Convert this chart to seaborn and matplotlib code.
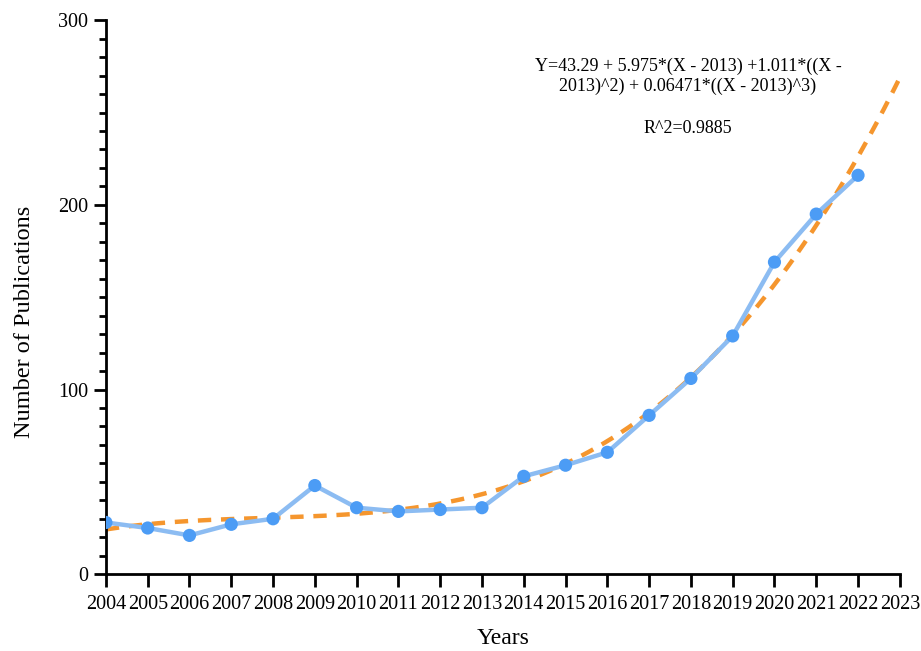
import numpy as np
import pandas as pd
import matplotlib
matplotlib.use("Agg")
import matplotlib.pyplot as plt
from matplotlib.ticker import MultipleLocator
import seaborn as sns

years = [2004, 2005, 2006, 2007, 2008, 2009, 2010, 2011, 2012, 2013,
         2014, 2015, 2016, 2017, 2018, 2019, 2020, 2021, 2022]
publications = [28, 25, 21, 27, 30, 48, 36, 34, 35, 36,
                53, 59, 66, 86, 106, 129, 169, 195, 216]
tick_years = list(range(2004, 2024))

# cubic fit coefficients, centred on 2013
fit_coef = [43.29, 5.975, 1.011, 0.06471]
fit_center = 2013

sns.set_theme(style="ticks")
plt.rcParams['font.family'] = ['Liberation Serif', 'DejaVu Serif']

fit_x = np.linspace(2004, 2023, 200)
d = fit_x - fit_center
fit_y = fit_coef[0] + fit_coef[1] * d + fit_coef[2] * d**2 + fit_coef[3] * d**3

df = pd.DataFrame({"Years": years, "Publications": publications})
fit_df = pd.DataFrame({"Years": fit_x, "Fit": fit_y})

fig = plt.figure(figsize=(9.21, 6.51), dpi=100)
ax = fig.add_axes([0.115, 0.118, 0.862, 0.851])

sns.lineplot(data=fit_df, x="Years", y="Fit", ax=ax, color="#f5962e",
             linewidth=3.2, linestyle=(0, (3, 2.2)), zorder=2)
sns.lineplot(data=df, x="Years", y="Publications", ax=ax, color="#8cbcf2",
             linewidth=3.2, zorder=3)
sns.scatterplot(data=df, x="Years", y="Publications", ax=ax, color="#4c9cf5",
                s=90, edgecolor="none", zorder=4)

ax.set_xlim(2004, 2023)
ax.set_ylim(0, 300)
ax.set_xticks(tick_years)
ax.set_xticklabels([str(y) for y in tick_years])
ax.yaxis.set_major_locator(MultipleLocator(100))
ax.yaxis.set_minor_locator(MultipleLocator(10))

sns.despine(ax=ax)
for side in ("left", "bottom"):
    ax.spines[side].set_linewidth(2)
    ax.spines[side].set_color("black")
ax.tick_params(axis="both", which="major", length=9, width=2, color="black",
               labelsize=14.5, labelcolor="black", pad=4)
ax.tick_params(axis="y", which="minor", length=5, width=2, color="black")
ax.tick_params(axis="x", pad=6)

ax.set_xlabel("Years", fontsize=17, labelpad=10, color="black")
ax.set_ylabel("Number of Publications", fontsize=17.5, color="black")
ax.yaxis.set_label_coords(-0.089, 0.455)

ax.text(2017.93, 269.5, "Y=43.29 + 5.975*(X - 2013) +1.011*((X -\n2013)^2) + 0.06471*((X - 2013)^3)",
        ha="center", va="center", fontsize=13, color="black", linespacing=1.2)
ax.text(2017.93, 241.5, "R^2=0.9885", ha="center", va="center", fontsize=13, color="black")

ax.grid(False)
fig.savefig("out.png", dpi=100, facecolor="white")
